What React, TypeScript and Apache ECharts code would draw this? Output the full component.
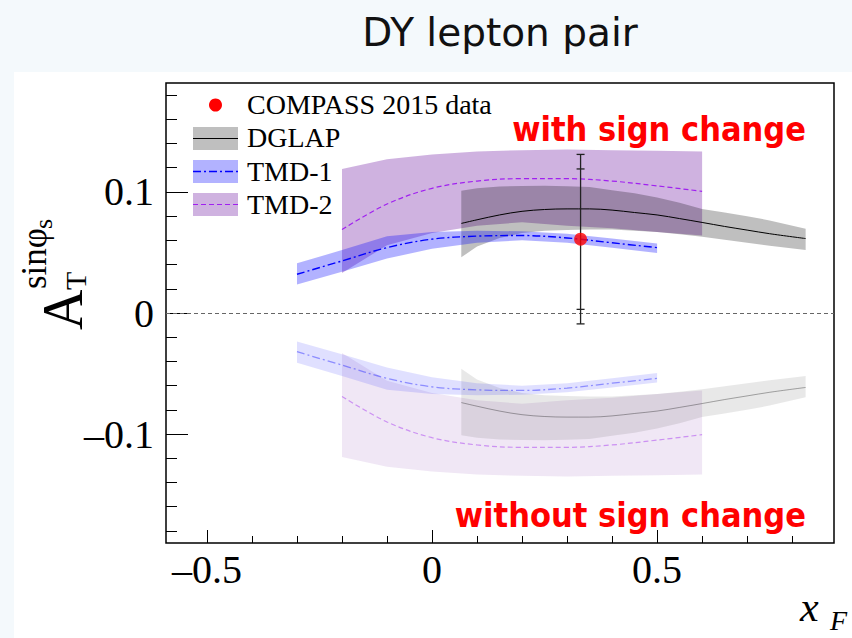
import React, { useEffect, useRef } from 'react';
import * as echarts from 'echarts';

// ---------- axis ranges and ticks ----------
const X_MIN = -0.591;
const X_MAX = 0.893;
const Y_MIN = -0.19;
const Y_MAX = 0.19;
const xMajorTicks = [-0.5, 0, 0.5];
const xMinorTicks = [-0.5, -0.4, -0.3, -0.2, -0.1, 0, 0.1, 0.2, 0.3, 0.4, 0.5, 0.6, 0.7, 0.8];
const yMajorTicks = [-0.1, 0, 0.1];
const yMinorTicks = [-0.18, -0.16, -0.14, -0.12, -0.1, -0.08, -0.06, -0.04, -0.02, 0, 0.02, 0.04, 0.06, 0.08, 0.1, 0.12, 0.14, 0.16, 0.18];

// ---------- COMPASS 2015 data ----------
const compassX = [0.33];
const compassY = [0.061];
const compassStat = [0.058];
const compassTot = [0.07];

// ---------- DGLAP (with sign change) ----------
const dglapX = [0.065, 0.1, 0.15, 0.2, 0.25, 0.3, 0.35, 0.4, 0.45, 0.5, 0.55, 0.6, 0.65, 0.7, 0.75, 0.83];
const dglapC = [0.074, 0.077, 0.081, 0.084, 0.0855, 0.086, 0.086, 0.085, 0.083, 0.081, 0.078, 0.0748, 0.0715, 0.0685, 0.0655, 0.0615];
const dglapHi = [0.101, 0.103, 0.1045, 0.105, 0.1052, 0.1048, 0.104, 0.1015, 0.099, 0.0955, 0.091, 0.086, 0.083, 0.08, 0.0765, 0.0695];
const dglapLo = [0.046, 0.055, 0.062, 0.066, 0.068, 0.0685, 0.069, 0.069, 0.068, 0.067, 0.065, 0.063, 0.0605, 0.058, 0.0555, 0.052];

// ---------- TMD-1 (with sign change) ----------
const tmd1X = [-0.3, -0.2, -0.1, 0, 0.1, 0.2, 0.3, 0.4, 0.5];
const tmd1C = [0.032, 0.043, 0.054, 0.061, 0.0635, 0.064, 0.062, 0.058, 0.054];
const tmd1Hi = [0.041, 0.052, 0.0635, 0.067, 0.068, 0.0675, 0.0655, 0.0615, 0.0575];
const tmd1Lo = [0.0235, 0.034, 0.045, 0.053, 0.058, 0.06, 0.058, 0.054, 0.0495];

// ---------- TMD-2 (with sign change) ----------
const tmd2X = [-0.2, -0.1, 0, 0.1, 0.2, 0.3, 0.4, 0.5, 0.6];
const tmd2C = [0.069, 0.09, 0.103, 0.109, 0.111, 0.111, 0.109, 0.105, 0.1005];
const tmd2Hi = [0.119, 0.127, 0.131, 0.1335, 0.1345, 0.135, 0.1345, 0.134, 0.1335];
const tmd2Lo = [0.033, 0.056, 0.066, 0.072, 0.075, 0.072, 0.07, 0.067, 0.064];

// ---------- without sign change (lower curves) ----------
const dglapNoC = [-0.074, -0.077, -0.081, -0.084, -0.0855, -0.086, -0.086, -0.085, -0.083, -0.081, -0.078, -0.0748, -0.0715, -0.0685, -0.0655, -0.0615];
const dglapNoHi = [-0.046, -0.055, -0.062, -0.066, -0.068, -0.0685, -0.069, -0.069, -0.068, -0.067, -0.065, -0.063, -0.0605, -0.058, -0.0555, -0.052];
const dglapNoLo = [-0.101, -0.103, -0.1045, -0.105, -0.1052, -0.1048, -0.104, -0.1015, -0.099, -0.0955, -0.091, -0.086, -0.083, -0.08, -0.0765, -0.0695];
const tmd1NoC = [-0.032, -0.043, -0.054, -0.061, -0.0635, -0.064, -0.062, -0.058, -0.054];
const tmd1NoHi = [-0.0235, -0.034, -0.045, -0.053, -0.058, -0.06, -0.058, -0.054, -0.0495];
const tmd1NoLo = [-0.041, -0.052, -0.0635, -0.067, -0.068, -0.0675, -0.0655, -0.0615, -0.0575];
const tmd2NoC = [-0.069, -0.09, -0.103, -0.109, -0.111, -0.111, -0.109, -0.105, -0.1005];
const tmd2NoHi = [-0.033, -0.056, -0.066, -0.072, -0.075, -0.072, -0.07, -0.067, -0.064];
const tmd2NoLo = [-0.119, -0.127, -0.131, -0.1335, -0.1345, -0.135, -0.1345, -0.134, -0.1335];

const SERIF = "'Liberation Serif', 'Times New Roman', serif";
const SANS = "'DejaVu Sans', sans-serif";

const GRAY = 'rgba(0,0,0,0.25)';
const GRAY_L = 'rgba(0,0,0,0.09)';
const BLUE = 'rgba(0,0,255,0.3)';
const BLUE_L = 'rgba(0,0,255,0.12)';
const PURP = 'rgba(110,20,160,0.33)';
const PURP_L = 'rgba(110,20,160,0.1)';

const DASH = [5, 3];
const DASHDOT = [8, 3, 2, 3];

function bandSeries(xs: number[], lo: number[], hi: number[], fill: string, z: number) {
  return {
    type: 'custom',
    coordinateSystem: 'cartesian2d',
    silent: true,
    z,
    data: [[xs[0], lo[0]]],
    renderItem: (_p: any, api: any) => {
      const pts: number[][] = [];
      for (let i = 0; i < xs.length; i++) pts.push(api.coord([xs[i], hi[i]]));
      for (let i = xs.length - 1; i >= 0; i--) pts.push(api.coord([xs[i], lo[i]]));
      return { type: 'polygon', shape: { points: pts }, style: { fill, stroke: null } };
    },
  };
}

function lineSeries(xs: number[], ys: number[], color: string, width: number, type: any, z: number) {
  return {
    type: 'line',
    silent: true,
    z,
    data: xs.map((x, i) => [x, ys[i]]),
    showSymbol: false,
    symbol: 'none',
    smooth: 0.35,
    lineStyle: { color, width, type },
  };
}

function tickLabel(v: number) {
  if (Math.abs(v) < 1e-9) return '0';
  return v < 0 ? '\u2013' + String(Math.abs(v)) : String(v);
}

export default function App() {
  const ref = useRef<HTMLDivElement>(null);

  useEffect(() => {
    if (!ref.current) return;
    const chart = echarts.init(ref.current, null, { renderer: 'svg' });

    const legendBoxX = 193;
    const legendBoxW = 45;
    const legendTextX = 247;
    const noLine = { show: false, onZero: false };

    const option: any = {
      animation: false,
      grid: {
        left: 166,
        top: 83,
        width: 668,
        height: 460,
        show: true,
        borderColor: '#000',
        borderWidth: 1.5,
        backgroundColor: 'transparent',
      },
      xAxis: [
        {
          type: 'value',
          min: X_MIN,
          max: X_MAX,
          position: 'bottom',
          axisLine: noLine,
          splitLine: { show: false },
          axisTick: { show: true, inside: true, length: 13, customValues: xMajorTicks, lineStyle: { color: '#000', width: 1 } },
          axisLabel: {
            show: true,
            customValues: xMajorTicks,
            formatter: tickLabel,
            margin: 26,
            verticalAlign: 'middle',
            fontFamily: SERIF,
            fontSize: 40,
            color: '#000',
          },
        },
        {
          type: 'value',
          min: X_MIN,
          max: X_MAX,
          position: 'bottom',
          axisLine: noLine,
          splitLine: { show: false },
          axisTick: { show: true, inside: true, length: 7, customValues: xMinorTicks, lineStyle: { color: '#000', width: 1 } },
          axisLabel: { show: false },
        },
      ],
      yAxis: [
        {
          type: 'value',
          min: Y_MIN,
          max: Y_MAX,
          position: 'left',
          axisLine: noLine,
          splitLine: { show: false },
          axisTick: { show: true, inside: true, length: 22, customValues: yMajorTicks, lineStyle: { color: '#000', width: 1 } },
          axisLabel: {
            show: true,
            customValues: yMajorTicks,
            formatter: tickLabel,
            margin: 12,
            fontFamily: SERIF,
            fontSize: 40,
            color: '#000',
          },
        },
        {
          type: 'value',
          min: Y_MIN,
          max: Y_MAX,
          position: 'left',
          axisLine: noLine,
          splitLine: { show: false },
          axisTick: { show: true, inside: true, length: 11, customValues: yMinorTicks, lineStyle: { color: '#000', width: 1 } },
          axisLabel: { show: false },
        },
      ],
      series: [
        // lower (without sign change)
        bandSeries(tmd2X, tmd2NoLo, tmd2NoHi, PURP_L, 1),
        bandSeries(dglapX, dglapNoLo, dglapNoHi, GRAY_L, 2),
        bandSeries(tmd1X, tmd1NoLo, tmd1NoHi, BLUE_L, 3),
        lineSeries(dglapX, dglapNoC, 'rgba(0,0,0,0.32)', 1, 'solid', 4),
        lineSeries(tmd1X, tmd1NoC, 'rgba(40,40,255,0.45)', 1.3, DASHDOT, 4),
        lineSeries(tmd2X, tmd2NoC, 'rgba(160,40,240,0.45)', 1.2, DASH, 4),
        // upper (with sign change)
        bandSeries(tmd2X, tmd2Lo, tmd2Hi, PURP, 5),
        bandSeries(dglapX, dglapLo, dglapHi, GRAY, 6),
        bandSeries(tmd1X, tmd1Lo, tmd1Hi, BLUE, 7),
        lineSeries(dglapX, dglapC, '#000', 1, 'solid', 8),
        lineSeries(tmd1X, tmd1C, '#0000ff', 1.4, DASHDOT, 8),
        lineSeries(tmd2X, tmd2C, '#a020f0', 1.2, DASH, 8),
        // error bars
        {
          type: 'custom',
          coordinateSystem: 'cartesian2d',
          silent: true,
          z: 9,
          data: compassX.map((x, i) => [x, compassY[i], compassStat[i], compassTot[i]]),
          renderItem: (_p: any, api: any) => {
            const x = api.value(0);
            const y = api.value(1);
            const s = api.value(2);
            const t = api.value(3);
            const tTop = api.coord([x, y + t]);
            const tBot = api.coord([x, y - t]);
            const sTop = api.coord([x, y + s]);
            const sBot = api.coord([x, y - s]);
            const st = { stroke: '#222', lineWidth: 1.3 };
            const cap = (p: number[]) => ({ type: 'line', shape: { x1: p[0] - 4, y1: p[1], x2: p[0] + 4, y2: p[1] }, style: st });
            return {
              type: 'group',
              children: [
                { type: 'line', shape: { x1: tTop[0], y1: tTop[1], x2: tBot[0], y2: tBot[1] }, style: st },
                cap(tTop),
                cap(tBot),
                cap(sTop),
                cap(sBot),
              ],
            };
          },
        },
        {
          type: 'scatter',
          silent: true,
          z: 10,
          data: compassX.map((x, i) => [x, compassY[i]]),
          symbol: 'circle',
          symbolSize: 13,
          itemStyle: { color: '#ff0000' },
          markLine: {
            silent: true,
            symbol: 'none',
            label: { show: false },
            lineStyle: { color: '#666', type: [4, 3], width: 1 },
            data: [{ yAxis: 0 }],
          },
        },
      ],
      graphic: [
        // title
        { type: 'text', x: 500, y: 32, style: { text: 'DY lepton pair', fontFamily: SANS, fontSize: 39, fill: '#111', align: 'center', verticalAlign: 'middle' } },
        // annotations
        { type: 'text', x: 806, y: 129, scaleX: 0.9, z: 20, style: { text: 'with sign change', fontFamily: SANS, fontWeight: 'bold', fontSize: 34, fill: '#ff0000', align: 'right', verticalAlign: 'middle' } },
        { type: 'text', x: 806, y: 515, scaleX: 0.9, z: 20, style: { text: 'without sign change', fontFamily: SANS, fontWeight: 'bold', fontSize: 34, fill: '#ff0000', align: 'right', verticalAlign: 'middle' } },
        // legend
        { type: 'circle', z: 20, shape: { cx: 215.5, cy: 105, r: 6.5 }, style: { fill: '#ff0000' } },
        { type: 'text', z: 20, x: legendTextX, y: 104, style: { text: 'COMPASS 2015 data', fontFamily: SERIF, fontSize: 28, fill: '#000', align: 'left', verticalAlign: 'middle' } },
        { type: 'rect', z: 20, shape: { x: legendBoxX, y: 127, width: legendBoxW, height: 23 }, style: { fill: GRAY } },
        { type: 'line', z: 21, shape: { x1: legendBoxX, y1: 138.5, x2: legendBoxX + legendBoxW, y2: 138.5 }, style: { stroke: '#000', lineWidth: 1 } },
        { type: 'text', z: 20, x: legendTextX, y: 137.5, style: { text: 'DGLAP', fontFamily: SERIF, fontSize: 28, fill: '#000', align: 'left', verticalAlign: 'middle' } },
        { type: 'rect', z: 20, shape: { x: legendBoxX, y: 160, width: legendBoxW, height: 23 }, style: { fill: BLUE } },
        { type: 'line', z: 21, shape: { x1: legendBoxX, y1: 171.5, x2: legendBoxX + legendBoxW, y2: 171.5 }, style: { stroke: '#0000ff', lineWidth: 1.4, lineDash: DASHDOT } },
        { type: 'text', z: 20, x: legendTextX, y: 171, style: { text: 'TMD-1', fontFamily: SERIF, fontSize: 28, fill: '#000', align: 'left', verticalAlign: 'middle' } },
        { type: 'rect', z: 20, shape: { x: legendBoxX, y: 193, width: legendBoxW, height: 23 }, style: { fill: PURP } },
        { type: 'line', z: 21, shape: { x1: legendBoxX, y1: 204.5, x2: legendBoxX + legendBoxW, y2: 204.5 }, style: { stroke: '#a020f0', lineWidth: 1.2, lineDash: DASH } },
        { type: 'text', z: 20, x: legendTextX, y: 204, style: { text: 'TMD-2', fontFamily: SERIF, fontSize: 28, fill: '#000', align: 'left', verticalAlign: 'middle' } },
        // y-axis title  A_T^{sin phi_s}
        { type: 'text', x: 63, y: 330, rotation: Math.PI / 2, style: { text: 'A', fontFamily: SERIF, fontSize: 56, fill: '#000', align: 'left', verticalAlign: 'middle' } },
        { type: 'text', x: 75, y: 290, rotation: Math.PI / 2, style: { text: 'T', fontFamily: SERIF, fontSize: 30, fill: '#000', align: 'left', verticalAlign: 'middle' } },
        { type: 'text', x: 34, y: 289, rotation: Math.PI / 2, style: { text: 'sin\u03C6', fontFamily: SERIF, fontSize: 35, fill: '#000', align: 'left', verticalAlign: 'middle' } },
        { type: 'text', x: 43, y: 229, rotation: Math.PI / 2, style: { text: 's', fontFamily: SERIF, fontSize: 26, fill: '#000', align: 'left', verticalAlign: 'middle' } },
        // x-axis title  x_F
        { type: 'text', x: 800, y: 607, style: { text: 'x', fontFamily: SERIF, fontStyle: 'italic', fontSize: 42, fill: '#000', align: 'left', verticalAlign: 'middle' } },
        { type: 'text', x: 830, y: 620, style: { text: 'F', fontFamily: SERIF, fontStyle: 'italic', fontSize: 28, fill: '#000', align: 'left', verticalAlign: 'middle' } },
      ],
    };

    chart.setOption(option);
    return () => chart.dispose();
  }, []);

  return (
    <div style={{ position: 'fixed', left: 0, top: 0, width: 852, height: 638, background: '#f4f9fc', overflow: 'hidden' }}>
      <div style={{ position: 'absolute', left: 14, top: 72, right: 0, bottom: 0, background: '#ffffff' }} />
      <div ref={ref} style={{ position: 'absolute', left: 0, top: 0, width: 852, height: 638 }} />
    </div>
  );
}
